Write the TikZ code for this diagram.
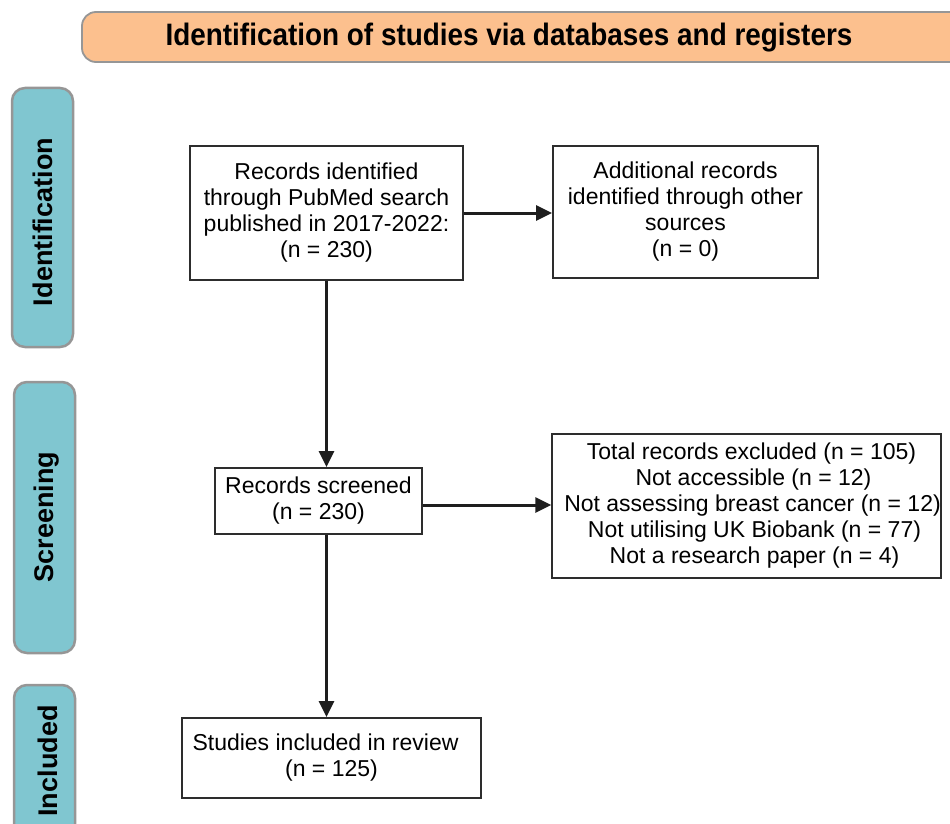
\documentclass[tikz,border=0pt]{standalone}
\usepackage{fontspec}
\setmainfont{Liberation Sans}
\newfontfamily\headfont[FakeStretch=0.9]{Liberation Sans Bold}
\usetikzlibrary{arrows.meta}
\definecolor{headfill}{RGB}{252,192,142}
\definecolor{sidefill}{RGB}{128,198,208}
\definecolor{sideline}{RGB}{150,150,150}
\definecolor{boxline}{RGB}{45,45,45}
\definecolor{arrowcol}{RGB}{30,30,30}
\tikzset{
  phase/.style={draw=sideline, line width=2.5pt, fill=sidefill, rounded corners=13pt},
  phasetext/.style={rotate=90, font=\bfseries\fontsize{27}{30}\selectfont, text=black},
  flowbox/.style={draw=boxline, line width=1.8pt, fill=white, align=center, inner sep=0pt,
    font=\fontsize{23}{26}\selectfont},
  flowarrow/.style={draw=arrowcol, line width=3pt, -{Triangle[length=16pt,width=15pt]}},
}
\begin{document}
\begin{tikzpicture}[x=1pt,y=-1pt]
\useasboundingbox (0,0) rectangle (950,824);
\begin{scope}
\clip (0,0) rectangle (950,824);
% header
\draw[draw=sideline, line width=1.8pt, fill=headfill, rounded corners=14pt] (82,12) rectangle (990,62);
\node[font=\headfont\fontsize{31}{33}\selectfont] (head) at (509,37.5) {Identification of studies via databases and registers};
% phase bars
\draw[phase] (12,88) rectangle (73,347);
\draw[phase] (14,382) rectangle (75,653);
\draw[phase] (14,685) rectangle (75,880);
\end{scope}
\node[phasetext] (pid) at (43,222) {Identification};
\node[phasetext] (psc) at (47,517) {Screening};
\node[phasetext] (pin) at (48,761) {Included};
% boxes
\node[flowbox, minimum width=273pt, minimum height=134pt] (b1) at (326.5,213)
  {Records identified\\through PubMed search\\published in 2017-2022:\\(n = 230)};
\node[flowbox, minimum width=265pt, minimum height=132pt] (b2) at (685.5,212)
  {Additional records\\identified through other\\sources\\(n = 0)};
\node[flowbox, minimum width=207pt, minimum height=66pt] (b3) at (318.5,501)
  {Records screened\\(n = 230)};
\node[flowbox, minimum width=387pt, minimum height=144pt] (b4) at (746.5,506)
  {\hspace*{10pt}Total records excluded (n = 105)\\\hspace*{14pt}Not accessible (n = 12)\\\hspace*{12pt}Not assessing breast cancer (n = 12)\\\hspace*{16pt}Not utilising UK Biobank (n = 77)\\\hspace*{16pt}Not a research paper (n = 4)};
\node[flowbox, minimum width=299pt, minimum height=80pt] (b5) at (331.5,758)
  {Studies included in review\hspace*{12pt}\\(n = 125)};
% arrows
\draw[flowarrow] (b1.east) -- (b2.west |- b1.east);
\draw[flowarrow] (b1.south) -- (b1.south |- b3.north);
\draw[flowarrow] ([yshift=-4pt]b3.east) -- ([yshift=-4pt]b3.east -| b4.west);
\draw[flowarrow] (b1.south |- b3.south) -- (b1.south |- b5.north);
\end{tikzpicture}
\end{document}
